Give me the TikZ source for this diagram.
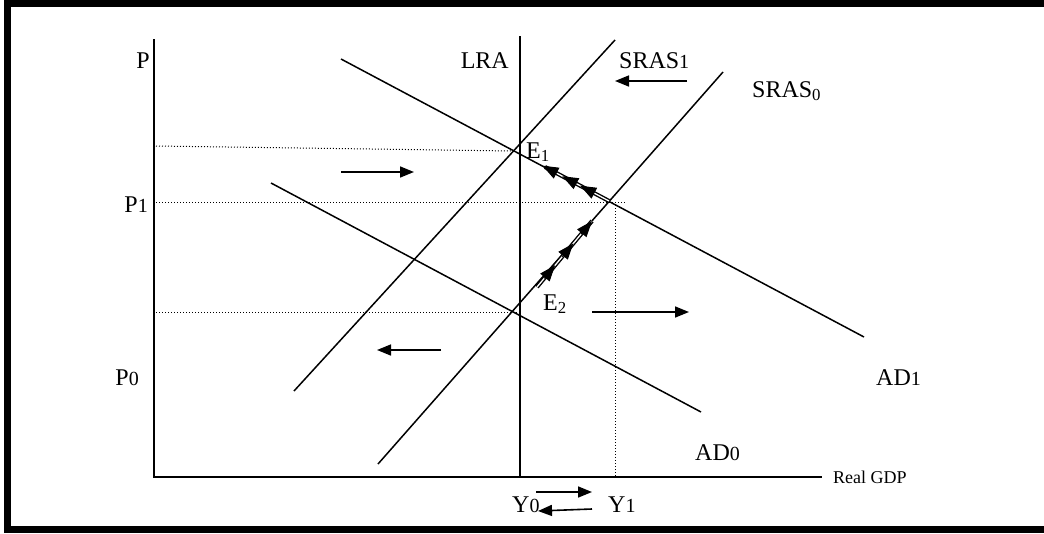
\documentclass[tikz,border=0pt]{standalone}
\usepackage{fontspec}
\setmainfont{Liberation Serif}
\usetikzlibrary{arrows.meta,calc}
\newcommand{\dg}[1]{{\fontsize{20}{24}\selectfont #1}}
\tikzset{
  curve/.style={line width=1.5pt},
  axisline/.style={line width=1.5pt},
  guide/.style={line width=1pt, dotted},
  lbl/.style={font=\fontsize{24}{28}\selectfont, inner sep=0pt},
  shift arrow/.style={line width=1.6pt, -{Triangle[length=14pt,width=11pt]}},
  chainline/.style={line width=1.4pt, double distance=1.3pt},
  chainhead/.style={line width=1pt, -{Triangle[length=16pt,width=12pt]}},
}
\begin{document}
\begin{tikzpicture}[x=1pt,y=-1pt]
\useasboundingbox (0,0) rectangle (1044,533);
\fill[white] (0,0) rectangle (1044,533);
\coordinate (FrTR) at (1044,3.5);
\coordinate (FrTL) at (7.5,3.5);
\coordinate (FrBL) at (7.5,529.5);
\coordinate (FrBR) at (1044,529.5);
\draw[line width=7pt] (FrTR) -- (FrTL) -- (FrBL) -- (FrBR);

% axes
\coordinate (O) at (154,477);
\coordinate (Ytop) at (154,39);
\coordinate (Xend) at (822,477);
\draw[axisline] (Ytop) -- (O) -- (Xend);

% curves
\coordinate (LRAtop) at (520,36);
\coordinate (LRAbot) at (520,477);
\draw[curve] (LRAtop) -- (LRAbot);
\coordinate (AD1a) at (341,59);   \coordinate (AD1b) at (864,337);
\coordinate (AD0a) at (271,183);  \coordinate (AD0b) at (701,412);
\coordinate (S1a) at (294,391);   \coordinate (S1b) at (615,40);
\coordinate (S0a) at (378,464);   \coordinate (S0b) at (723,72);
\draw[curve] (AD1a) -- (AD1b);
\draw[curve] (AD0a) -- (AD0b);
\draw[curve] (S1a) -- (S1b);
\draw[curve] (S0a) -- (S0b);

% guides
\coordinate (E1) at (513,151);
\coordinate (G1) at (156,146);
\coordinate (G2a) at (156,202);  \coordinate (G2b) at (625,202);
\coordinate (G3a) at (156,312);  \coordinate (G3b) at (520,312);
\coordinate (V1a) at (615,202);  \coordinate (V1b) at (615,476);
\draw[guide] (G1) -- (E1);
\draw[guide] (G2a) -- (G2b);
\draw[guide] (G3a) -- (G3b);
\draw[guide] (V1a) -- (V1b);

% shift arrows
\coordinate (A1a) at (341,172); \coordinate (A1b) at (414,172);
\coordinate (A2a) at (441,350); \coordinate (A2b) at (377,350);
\coordinate (A3a) at (592,312); \coordinate (A3b) at (689,312);
\coordinate (A4a) at (687,81);  \coordinate (A4b) at (615,81);
\coordinate (A5a) at (536,492); \coordinate (A5b) at (592,492);
\coordinate (A6a) at (592,509); \coordinate (A6b) at (538,511);
\draw[shift arrow] (A1a) -- (A1b);
\draw[shift arrow] (A2a) -- (A2b);
\draw[shift arrow] (A3a) -- (A3b);
\draw[shift arrow] (A4a) -- (A4b);
\draw[shift arrow] (A5a) -- (A5b);
\draw[shift arrow] (A6a) -- (A6b);

% adjustment paths
\coordinate (C1a) at (609,201); \coordinate (C1b) at (545,167);
\coordinate (C2a) at (537,287); \coordinate (C2b) at (592,221);
\draw[chainline] (C1a) -- (C1b);
\draw[chainline] (C2a) -- (C2b);
\draw[chainhead] ($(C1a)!0.25!(C1b)$) -- ($(C1a)!0.45!(C1b)$);
\draw[chainhead] ($(C1a)!0.53!(C1b)$) -- ($(C1a)!0.73!(C1b)$);
\draw[chainhead] ($(C1a)!0.82!(C1b)$) -- ($(C1a)!1.04!(C1b)$);
\draw[chainhead] ($(C2a)!0.13!(C2b)$) -- ($(C2a)!0.33!(C2b)$);
\draw[chainhead] ($(C2a)!0.46!(C2b)$) -- ($(C2a)!0.66!(C2b)$);
\draw[chainhead] ($(C2a)!0.80!(C2b)$) -- ($(C2a)!1.0!(C2b)$);

% labels
\node[lbl, anchor=base east] (tP) at (150,68) {P};
\node[lbl, anchor=base east] (tLRA) at (509,68) {LRA};
\node[lbl, anchor=base west] (tS1) at (619,68) {SRAS\dg{1}};
\node[lbl, anchor=base west] (tS0) at (752,97) {SRAS$_{\mathrm{0}}$};
\node[lbl, anchor=base west] (tE1) at (526,158) {E$_{\mathrm{1}}$};
\node[lbl, anchor=base west] (tE2) at (543,310) {E$_{\mathrm{2}}$};
\node[lbl, anchor=base east] (tP1) at (148,212) {P\dg{1}};
\node[lbl, anchor=base east] (tP0) at (139,385) {P\dg{0}};
\node[lbl, anchor=base west] (tAD1) at (876,385) {AD\dg{1}};
\node[lbl, anchor=base west] (tAD0) at (695,460) {AD\dg{0}};
\node[inner sep=0pt, anchor=base west, font=\fontsize{18}{22}\selectfont] (tGDP) at (833,483) {Real GDP};
\node[lbl, anchor=base west] (tY0) at (512,512) {Y\dg{0}};
\node[lbl, anchor=base west] (tY1) at (608,512) {Y\dg{1}};
\end{tikzpicture}
\end{document}
